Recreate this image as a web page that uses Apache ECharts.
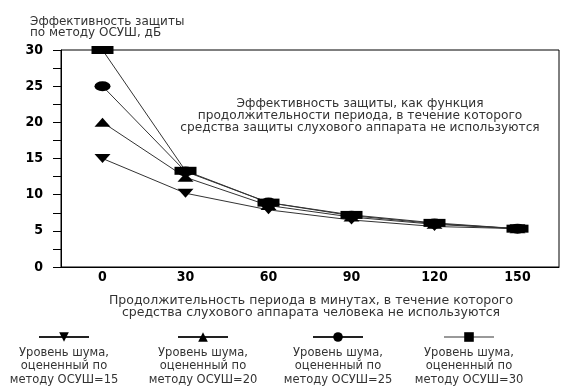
<!DOCTYPE html>
<html><head><meta charset="utf-8">
<script src="https://cdn.jsdelivr.net/npm/echarts@6/dist/echarts.min.js"></script>
<style>html,body{margin:0;padding:0;background:#fff}#c{width:584px;height:391px}</style>
</head><body><div id="c"></div>
<script>
const categories = ['0','30','60','90','120','150'];
const osush15 = [15, 10.2, 7.9, 6.5, 5.6, 5.3];
const osush20 = [20, 12.4, 8.5, 6.9, 5.9, 5.3];
const osush25 = [25, 13.2, 8.9, 7.1, 6.0, 5.3];
const osush30 = [30, 13.3, 8.9, 7.2, 6.1, 5.3];
const seriesNames = ['Уровень шума,\nоцененный по\nметоду ОСУШ=15','Уровень шума,\nоцененный по\nметоду ОСУШ=20','Уровень шума,\nоцененный по\nметоду ОСУШ=25','Уровень шума,\nоцененный по\nметоду ОСУШ=30'];
const yTicks = [0, 5, 10, 15, 20, 25, 30];

const FONT = "'DejaVu Sans','Liberation Sans',sans-serif";
const BFONT = "'DejaVu Sans Condensed','DejaVu Sans',sans-serif";
const downTri = 'path://M0,0 L10,0 L5,6 Z';
const symbols = [downTri, 'triangle', 'circle', 'rect'];
const sizes = [[16,9],[16,9],[16,10],[22,8]];
const data = [osush15, osush20, osush25, osush30];
const legendX = [33, 172, 307, 438];
const legendLine = ['#222','#222','#222','#999'];

const chart = echarts.init(document.getElementById('c'));
chart.setOption({
  animation: false,
  backgroundColor: '#fff',
  grid: {left: 61, right: 25, top: 50, bottom: 124, show: true, borderColor: '#000', borderWidth: 1},
  title: [
    {text: 'Эффективность защиты\nпо методу ОСУШ, дБ', left: 25, top: 11,
     textStyle: {fontFamily: FONT, fontSize: 12, fontWeight: 'normal', color: '#333', lineHeight: 11.5}},
    {text: 'Эффективность защиты, как функция\nпродолжительности периода, в течение которого\nсредства защиты слухового аппарата не используются',
     left: 355, top: 93, textAlign: 'center',
     textStyle: {fontFamily: FONT, fontSize: 12.2, fontWeight: 'normal', color: '#333', lineHeight: 12, align: 'center'}},
    {text: 'Продолжительность периода в минутах, в течение которого\nсредства слухового аппарата человека не используются',
     left: 306, top: 290, textAlign: 'center',
     textStyle: {fontFamily: FONT, fontSize: 12.5, fontWeight: 'normal', color: '#333', lineHeight: 12, align: 'center'}}
  ].concat(seriesNames.map((n, i) => ({
     text: n, left: legendX[i] + 26, top: 341, textAlign: 'center',
     textStyle: {fontFamily: FONT, fontSize: 11.5, fontWeight: 'normal', color: '#333', lineHeight: 13.5, align: 'center'}
  }))),
  legend: seriesNames.map((n, i) => ({
    data: [n], left: legendX[i], top: 326, itemWidth: 50, itemHeight: 12,
    formatter: () => '', selectedMode: false,
    lineStyle: {color: legendLine[i], width: 2},
    itemStyle: {color: '#000'}
  })),
  xAxis: {
    type: 'category', data: categories, boundaryGap: true,
    axisLine: {lineStyle: {color: '#000', width: 1}},
    axisTick: {show: false},
    axisLabel: {fontFamily: BFONT, fontSize: 14, fontWeight: 'bold', color: '#000', margin: 3}
  },
  yAxis: {
    type: 'value', min: 0, max: 30, interval: 2.5,
    axisLine: {show: true, lineStyle: {color: '#000', width: 1}},
    axisTick: {show: true, length: 8, lineStyle: {color: '#000'}},
    splitLine: {show: false},
    axisLabel: {fontFamily: BFONT, fontSize: 14, fontWeight: 'bold', color: '#000', margin: 18,
      formatter: v => yTicks.indexOf(v) >= 0 ? String(v) : ''}
  },
  series: data.map((d, i) => ({
    name: seriesNames[i], type: 'line', data: d,
    symbol: symbols[i], symbolSize: sizes[i], showSymbol: true,
    lineStyle: {color: '#333', width: 1},
    itemStyle: {color: '#000'},
    z: 2 + i
  }))
});
</script></body></html>
